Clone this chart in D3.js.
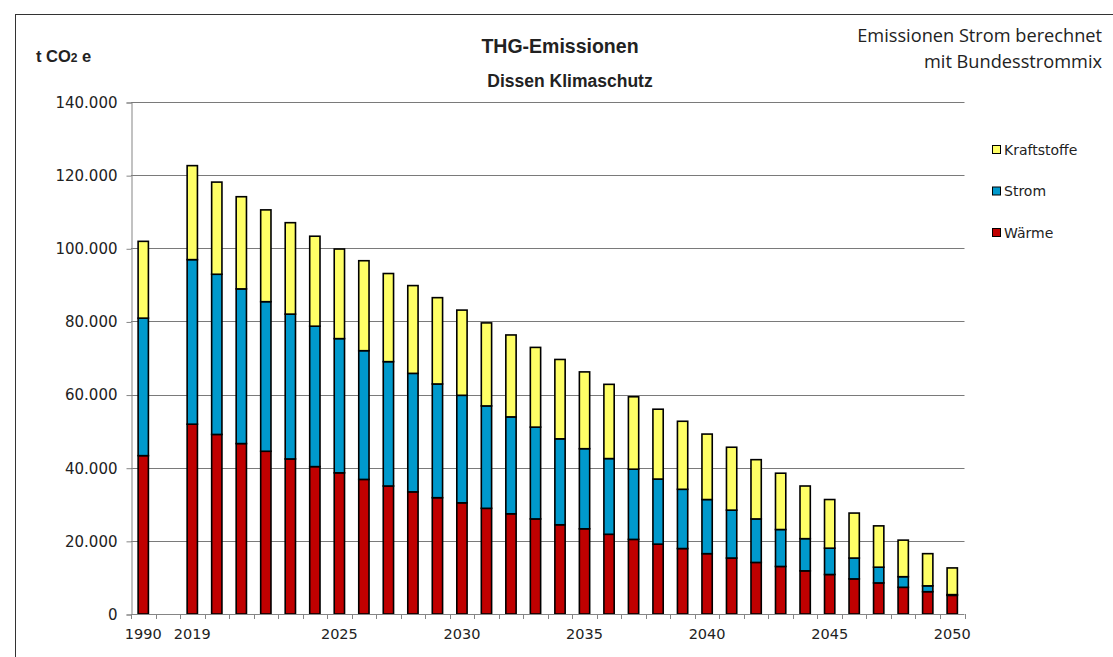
<!DOCTYPE html>
<head>
  <meta http-equiv="Content-Type" content="text/html; charset=utf-8">
  <style>
    body { margin: 0; background: #fff; }
    text { font-family: "DejaVu Sans", Verdana, sans-serif; fill: #222; }
  </style>
</head>
<body></body>
<script src="https://d3js.org/d3.v7.min.js"></script>
<script>

var width = 1113,
    height = 657;

// Inputs
var years = ["1990", "2019", "2020", "2021", "2022", "2023", "2024", "2025", "2026", "2027",
             "2028", "2029", "2030", "2031", "2032", "2033", "2034", "2035", "2036", "2037",
             "2038", "2039", "2040", "2041", "2042", "2043", "2044", "2045", "2046", "2047",
             "2048", "2049", "2050"];

var waerme = [43300, 51900, 49100, 46600, 44500, 42400, 40300, 38600, 36800, 35000,
              33400, 31800, 30400, 28900, 27400, 26000, 24400, 23300, 21800, 20400,
              19100, 17900, 16500, 15300, 14100, 13000, 11800, 10800, 9600, 8500,
              7300, 6100, 5100];

var strom = [37600, 45000, 43800, 42300, 40900, 39600, 38400, 36700, 35200, 34000,
             32400, 31100, 29400, 28000, 26500, 25100, 23500, 21900, 20700, 19200,
             17800, 16200, 14800, 13100, 11900, 10100, 8800, 7200, 5700, 4300,
             2900, 1600, 200];

var kraftstoffe = [21000, 25700, 25200, 25200, 25100, 25000, 24600, 24500, 24600, 24100,
                   24000, 23600, 23300, 22700, 22400, 21800, 21700, 21000, 20300, 19800,
                   19100, 18600, 17900, 17200, 16200, 15400, 14400, 13300, 12300, 11300,
                   10000, 8800, 7300];

var yTicks = [0, 20000, 40000, 60000, 80000, 100000, 120000, 140000];
var xLabels = ["1990", "2019", "2025", "2030", "2035", "2040", "2045", "2050"];

var seriesNames = ["Wärme", "Strom", "Kraftstoffe"];
var colors = {"Wärme": "#c00000", "Strom": "#0099cc", "Kraftstoffe": "#ffff66"};

// empty slot between 1990 and 2019
var slots = [years[0], "gap"].concat(years.slice(1));

var rows = years.map(function(y, i) {
  return {year: y, "Wärme": waerme[i], "Strom": strom[i], "Kraftstoffe": kraftstoffe[i]};
});

var pLeft = 131, pRight = 964.5, pTop = 102, pBottom = 614;

var xs = d3.scaleBand()
    .domain(slots)
    .range([pLeft, pRight])
    .paddingInner(0.58)
    .paddingOuter(0.29);
var ys = d3.scaleLinear()
    .domain([0, 140000])
    .range([pBottom, pTop]);

var de = d3.formatLocale({decimal: ",", thousands: ".", grouping: [3], currency: ["", " €"]});
var fmt = de.format(",.0f");

var svg = d3.select("body").append("svg")
    .attr("width", width)
    .attr("height", height);

// outer frame
svg.append("rect")
    .attr("x", 15.5).attr("y", 14.5)
    .attr("width", 1200).attr("height", 700)
    .attr("fill", "none").attr("stroke", "#333");

// grid
svg.selectAll(".grid")
    .data(yTicks.slice(1))
    .enter()
    .append("line")
    .attr("class", "grid")
    .attr("x1", pLeft).attr("x2", pRight)
    .attr("y1", function(d){ return Math.round(ys(d)) + 0.5; })
    .attr("y2", function(d){ return Math.round(ys(d)) + 0.5; })
    .attr("stroke", "#7a7a7a");

// y axis
var yAxis = svg.append("g")
    .attr("transform", "translate(" + (pLeft + 0.5) + ",0.5)")
    .call(d3.axisLeft(ys).tickValues(yTicks).tickSize(5).tickPadding(9).tickFormat(fmt));
yAxis.select(".domain").attr("stroke", "#858585");
yAxis.selectAll(".tick line").attr("stroke", "#858585");
yAxis.selectAll("text").style("font-size", "15px").attr("fill", "#222");

// x axis, labels at band centres
var xAxis = svg.append("g")
    .attr("transform", "translate(0," + (pBottom + 0.5) + ")")
    .call(d3.axisBottom(xs).tickSize(0).tickPadding(14)
      .tickFormat(function(d){ return xLabels.indexOf(d) >= 0 ? d : ""; }));
xAxis.select(".domain").remove();
xAxis.selectAll("text").style("font-size", "14.5px").attr("fill", "#222");

// x boundary ticks
var step = xs.step();
svg.selectAll(".xtick")
    .data(d3.range(slots.length + 1))
    .enter()
    .append("line")
    .attr("class", "xtick")
    .attr("x1", function(i){ return Math.round(pLeft + i * step) + 0.5; })
    .attr("x2", function(i){ return Math.round(pLeft + i * step) + 0.5; })
    .attr("y1", pBottom).attr("y2", pBottom + 5)
    .attr("stroke", "#858585");

// bars
var stacked = d3.stack().keys(seriesNames)(rows);
svg.selectAll(".series")
    .data(stacked)
    .enter()
    .append("g")
    .attr("class", "series")
    .attr("fill", function(d){ return colors[d.key]; })
    .selectAll("rect")
    .data(function(d){ return d; })
    .enter()
    .append("rect")
    .attr("x", function(d){ return xs(d.data.year); })
    .attr("width", xs.bandwidth())
    .attr("y", function(d){ return ys(d[1]); })
    .attr("height", function(d){ return ys(d[0]) - ys(d[1]); })
    .attr("stroke", "#000")
    .attr("stroke-width", 1.6);

// x axis line
svg.append("line")
    .attr("x1", pLeft).attr("x2", pRight)
    .attr("y1", pBottom + 0.5).attr("y2", pBottom + 0.5)
    .attr("stroke", "#858585");

// titles
svg.append("text")
    .attr("x", 560).attr("y", 53)
    .attr("text-anchor", "middle")
    .style("font-family", "'Liberation Sans', Arial, sans-serif")
    .style("font-weight", "bold").style("font-size", "19.5px")
    .text("THG-Emissionen");
svg.append("text")
    .attr("x", 570).attr("y", 87)
    .attr("text-anchor", "middle")
    .style("font-family", "'Liberation Sans', Arial, sans-serif")
    .style("font-weight", "bold").style("font-size", "17.5px")
    .text("Dissen Klimaschutz");

var unit = svg.append("text")
    .attr("x", 36).attr("y", 62)
    .style("font-family", "'Liberation Sans', Arial, sans-serif")
    .style("font-weight", "bold").style("font-size", "16.5px");
unit.append("tspan").text("t CO");
unit.append("tspan").style("font-size", "12px").text("2");
unit.append("tspan").text(" e");

var note = ["Emissionen Strom berechnet", "mit Bundesstrommix"];
svg.selectAll(".note")
    .data(note)
    .enter()
    .append("text")
    .attr("class", "note")
    .attr("x", 1102)
    .attr("y", function(d, i){ return 42 + i * 26; })
    .attr("text-anchor", "end")
    .style("font-family", "'Open Sans', sans-serif")
    .style("font-size", "18.2px")
    .text(function(d){ return d; });

// legend
var legendOrder = ["Kraftstoffe", "Strom", "Wärme"];
var legend = svg.selectAll(".legend")
    .data(legendOrder)
    .enter()
    .append("g")
    .attr("class", "legend")
    .attr("transform", function(d, i){ return "translate(992," + (150 + i * 41.5) + ")"; });
legend.append("rect")
    .attr("x", 0.5).attr("y", -4.5)
    .attr("width", 8).attr("height", 8)
    .attr("fill", function(d){ return colors[d]; })
    .attr("stroke", "#000");
legend.append("text")
    .attr("x", 12).attr("y", 0)
    .attr("dy", "0.35em")
    .style("font-size", "14px")
    .text(function(d){ return d; });

</script>
</html>
